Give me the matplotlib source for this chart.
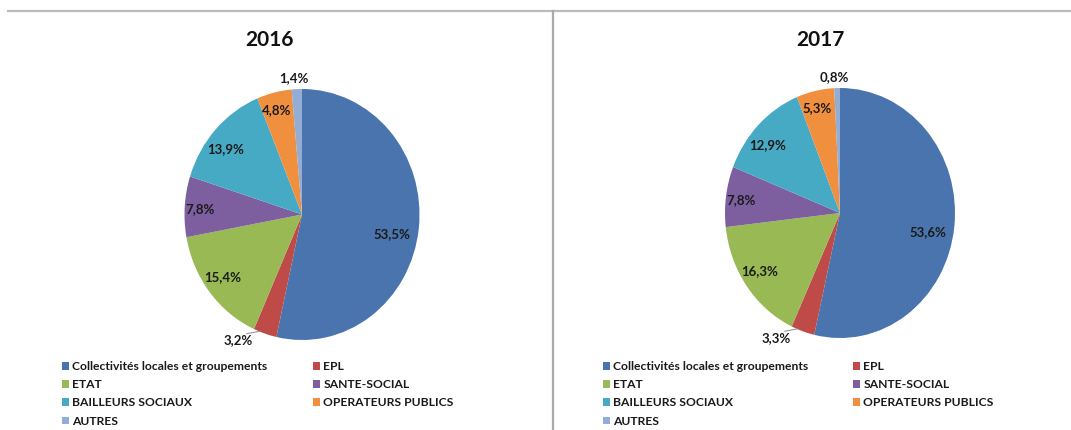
import numpy as np
import matplotlib
matplotlib.use("Agg")
import matplotlib.pyplot as plt
from matplotlib.lines import Line2D

plt.rcParams["font.family"] = ["Lato", "DejaVu Sans"]

# data
categories = ["Collectivités locales et groupements", "EPL", "ETAT", "SANTE-SOCIAL",
              "BAILLEURS SOCIAUX", "OPERATEURS PUBLICS", "AUTRES"]
share_2016 = [53.5, 3.2, 15.4, 7.8, 13.9, 4.8, 1.4]
share_2017 = [53.6, 3.3, 16.3, 7.8, 12.9, 5.3, 0.8]
years = ["2016", "2017"]

colors = ["#4A74AD", "#BE4B48", "#98B954", "#7D5FA0", "#46AAC5", "#F0903F", "#93ADD5"]

# label placement (radius factor, angle offset in degrees) per slice, Excel "best fit" look
lab_r = [0.78, 1.14, 0.84, 0.87, 0.83, 0.86, 1.09]
lab_dt = [-5, -10, -2, 1, 4, 1, 1]

W, H = 1071, 430
fig = plt.figure(figsize=(W / 100, H / 100), dpi=100)


def px_axes(cx, cy, rx, ry, pad=1.5):
    # axes placed in pixel coords so that data [-1, 1] maps onto the pie ellipse
    left = (cx - pad * rx) / W
    bottom = 1 - (cy + pad * ry) / H
    return fig.add_axes([left, bottom, 2 * pad * rx / W, 2 * pad * ry / H])


def draw_pie(ax, values):
    wedges, _ = ax.pie(values, colors=colors, startangle=90, counterclock=False,
                       wedgeprops=dict(linewidth=0))
    ax.set_aspect("auto")
    ax.set_xlim(-1.5, 1.5)
    ax.set_ylim(-1.5, 1.5)
    ax.axis("off")
    for i, (w, v) in enumerate(zip(wedges, values)):
        ang = np.deg2rad((w.theta1 + w.theta2) / 2 + lab_dt[i])
        x, y = lab_r[i] * np.cos(ang), lab_r[i] * np.sin(ang)
        ax.text(x, y, f"{v:.1f}%".replace(".", ","), ha="center", va="center",
                fontsize=9.5, fontweight="bold", color="#1a1a1a")
    # leader line for the small EPL slice
    w = wedges[1]
    a1 = np.deg2rad((w.theta1 + w.theta2) / 2 - 3)
    a0 = np.deg2rad((w.theta1 + w.theta2) / 2 - 8)
    ax.plot([1.06 * np.cos(a0), 1.0 * np.cos(a1)], [1.06 * np.sin(a0), 1.0 * np.sin(a1)],
            color="#999999", lw=0.8, clip_on=False)
    return wedges


def draw_legend(wedges, x1, x2, ytop):
    order1 = [0, 2, 4, 6]
    order2 = [1, 3, 5]
    for order, x in [(order1, x1), (order2, x2)]:
        leg = fig.legend([wedges[i] for i in order], [categories[i] for i in order],
                         loc="upper left", bbox_to_anchor=(x / W, 1 - ytop / H),
                         frameon=False, borderpad=0, borderaxespad=0,
                         handlelength=0.55, handleheight=0.6, handletextpad=0.3,
                         labelspacing=0.6, prop=dict(size=8.7, weight="bold"))
        for t in leg.get_texts():
            t.set_color("#1a1a1a")


panels = [
    dict(values=share_2016, cx=302, cy=214.5, rx=117.5, ry=125.5, tx=270, lx=(62, 313)),
    dict(values=share_2017, cx=840, cy=213, rx=115, ry=125, tx=820, lx=(603, 853)),
]

for year, p in zip(years, panels):
    ax = px_axes(p["cx"], p["cy"], p["rx"], p["ry"])
    wedges = draw_pie(ax, p["values"])
    fig.text(p["tx"] / W, 1 - 40 / H, year, ha="center", va="center",
             fontsize=15, fontweight="bold", color="#111111")
    draw_legend(wedges, p["lx"][0], p["lx"][1], 361)

# separator lines of the original screenshot
fig.add_artist(Line2D([8 / W, 1], [1 - 11 / H, 1 - 11 / H], color="#bbbbbb", lw=1.6))
fig.add_artist(Line2D([553 / W, 553 / W], [0, 1 - 11 / H], color="#aaaaaa", lw=1.6))

fig.savefig("out.png", dpi=100, facecolor="white")
